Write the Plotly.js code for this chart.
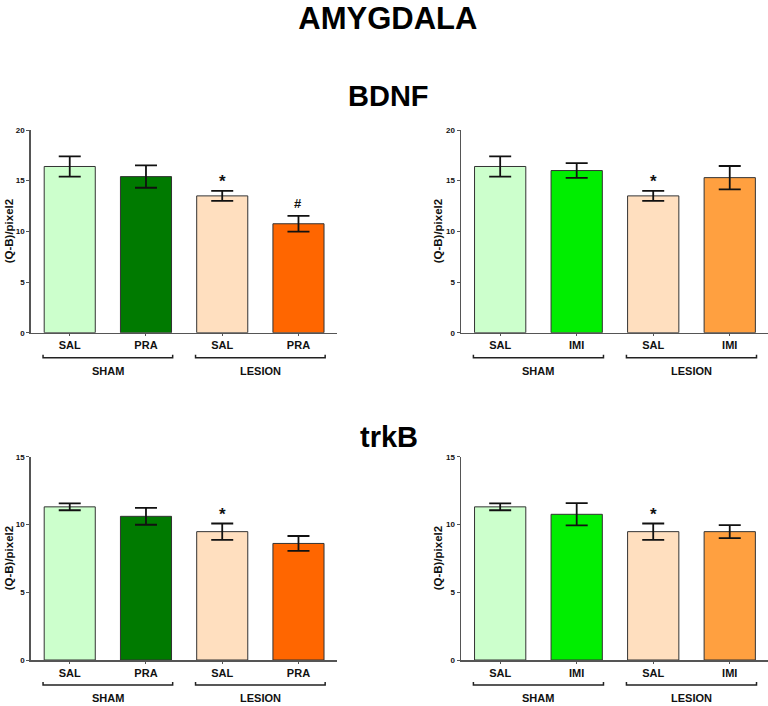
<!DOCTYPE html>
<html>
<head>
<meta charset="utf-8">
<script src="https://cdn.plot.ly/plotly-3.0.1.min.js"></script>
<style>html,body{margin:0;padding:0;background:#fff;}#chart{width:768px;height:706px;}</style>
</head>
<body>
<div id="chart"></div>
<script>
// ---- data ----
const labelsPRA = ['SAL', 'PRA', 'SAL', 'PRA'];
const labelsIMI = ['SAL', 'IMI', 'SAL', 'IMI'];
const groupNames = ['SHAM', 'LESION'];
const groupMembers = [[0, 1], [2, 3]];

const bdnfPRA = [16.4, 15.4, 13.5, 10.75];
const bdnfPRAerr = [1.0, 1.1, 0.5, 0.77];
const bdnfIMI = [16.4, 16.0, 13.5, 15.3];
const bdnfIMIerr = [1.0, 0.73, 0.5, 1.15];
const trkbPRA = [11.3, 10.6, 9.47, 8.6];
const trkbPRAerr = [0.25, 0.62, 0.6, 0.55];
const trkbIMI = [11.3, 10.75, 9.47, 9.47];
const trkbIMIerr = [0.25, 0.82, 0.6, 0.48];

const marksBdnfPRA = ['', '', '*', '#'];
const marksBdnfIMI = ['', '', '*', ''];
const marksTrkbPRA = ['', '', '*', ''];
const marksTrkbIMI = ['', '', '*', ''];

const colorsPRA = ['#ccffcc', '#007a00', '#ffdfbf', '#ff6600'];
const colorsIMI = ['#ccffcc', '#00ee00', '#ffdfbf', '#ffa040'];

const yMaxBdnf = 20, yMaxTrkb = 15;

// ---- layout helpers ----
const W = 768, H = 706;
const FONT = 'Liberation Sans, Arial, sans-serif';
const px2x = p => p / W;
const px2y = p => 1 - p / H;

const panels = [
  {vals: bdnfPRA, errs: bdnfPRAerr, labels: labelsPRA, colors: colorsPRA, marks: marksBdnfPRA, ymax: yMaxBdnf,
   xd: [px2x(30.7), px2x(336.6)], yd: [px2y(332.7), px2y(130)], ytitleX: px2x(9)},
  {vals: bdnfIMI, errs: bdnfIMIerr, labels: labelsIMI, colors: colorsIMI, marks: marksBdnfIMI, ymax: yMaxBdnf,
   xd: [px2x(461), 1], yd: [px2y(332.7), px2y(130)], ytitleX: px2x(438)},
  {vals: trkbPRA, errs: trkbPRAerr, labels: labelsPRA, colors: colorsPRA, marks: marksTrkbPRA, ymax: yMaxTrkb,
   xd: [px2x(30.7), px2x(336.6)], yd: [px2y(660), px2y(456.7)], ytitleX: px2x(9)},
  {vals: trkbIMI, errs: trkbIMIerr, labels: labelsIMI, colors: colorsIMI, marks: marksTrkbIMI, ymax: yMaxTrkb,
   xd: [px2x(461), 1], yd: [px2y(660), px2y(456.7)], ytitleX: px2x(438)}
];

const traces = [];
const layout = {
  width: W, height: H,
  margin: {l: 0, r: 0, t: 0, b: 0},
  paper_bgcolor: '#fff', plot_bgcolor: '#fff',
  showlegend: false,
  font: {family: FONT, color: '#000'},
  title: {text: 'AMYGDALA', x: 0.505, xanchor: 'center', y: px2y(18), yanchor: 'middle',
          font: {family: FONT, size: 31, weight: 'bold', color: '#000'}},
  annotations: [
    {text: 'BDNF', xref: 'paper', yref: 'paper', x: 0.5065, y: px2y(96), xanchor: 'center', yanchor: 'middle',
     showarrow: false, font: {family: FONT, size: 29, weight: 'bold', color: '#000'}},
    {text: 'trkB', xref: 'paper', yref: 'paper', x: 0.5065, y: px2y(437), xanchor: 'center', yanchor: 'middle',
     showarrow: false, font: {family: FONT, size: 29, weight: 'bold', color: '#000'}}
  ],
  shapes: []
};

panels.forEach((p, i) => {
  const n = i + 1;
  const xa = 'x' + (n === 1 ? '' : n), ya = 'y' + (n === 1 ? '' : n);
  const xk = 'xaxis' + (n === 1 ? '' : n), yk = 'yaxis' + (n === 1 ? '' : n);
  const idx = p.vals.map((_, k) => k);
  traces.push({
    type: 'bar', x: idx, y: p.vals, xaxis: xa, yaxis: ya, width: 0.67,
    marker: {color: p.colors, line: {color: '#333', width: 1}},
    error_y: {type: 'data', array: p.errs, visible: true, color: '#111', thickness: 1.8, width: 11},
    hoverinfo: 'y'
  });
  layout[xk] = {
    domain: p.xd, anchor: ya, range: [-0.512, 3.5], fixedrange: true,
    tickmode: 'array', tickvals: idx, ticktext: p.labels,
    ticks: 'outside', ticklen: 2, tickcolor: '#555', tickwidth: 1,
    showline: true, linecolor: '#555', linewidth: 1.5, showgrid: false, zeroline: false,
    tickfont: {family: FONT, size: 11, weight: 'bold', color: '#111'}
  };
  layout[yk] = {
    domain: p.yd, anchor: xa, range: [0, p.ymax], fixedrange: true,
    tickvals: [0, 5, 10, 15, 20].filter(v => v <= p.ymax),
    ticks: 'outside', ticklen: 3, tickcolor: '#555', tickwidth: 1,
    showline: true, linecolor: '#555', linewidth: 1.5, showgrid: false, zeroline: false,
    tickfont: {family: FONT, size: 8, weight: 'bold', color: '#111'}
  };
  // y title
  layout.annotations.push({
    text: '(Q-B)/pixel2', xref: 'paper', yref: 'paper', x: p.ytitleX, y: (p.yd[0] + p.yd[1]) / 2,
    xanchor: 'center', yanchor: 'middle', textangle: -90, showarrow: false,
    font: {family: FONT, size: 11.5, weight: 'bold', color: '#111'}
  });
  // significance marks
  p.marks.forEach((m, k) => {
    if (!m) return;
    layout.annotations.push({
      text: m, xref: xa, yref: ya, x: k, y: p.vals[k] + p.errs[k], xanchor: 'center', yanchor: 'bottom',
      yshift: m === '*' ? -2 : 3, showarrow: false,
      font: {family: FONT, size: m === '*' ? 17 : 13, weight: 'bold', color: '#111'}
    });
  });
  // group brackets and labels
  const by = p.yd[0] - 25 / H, bh = 3 / H, gy = p.yd[0] - 38 / H;
  groupMembers.forEach((g, gi) => {
    const x0 = Math.min(...g) - 0.35, x1 = Math.max(...g) + 0.35;
    layout.shapes.push({
      type: 'path', xref: xa, yref: 'paper',
      path: `M ${x0} ${by + bh} L ${x0} ${by} L ${x1} ${by} L ${x1} ${by + bh}`,
      line: {color: '#222', width: 1.5}
    });
    layout.annotations.push({
      text: groupNames[gi], xref: xa, yref: 'paper', x: (Math.min(...g) + Math.max(...g)) / 2, y: gy,
      xanchor: 'center', yanchor: 'middle', showarrow: false,
      font: {family: FONT, size: 11, weight: 'bold', color: '#111'}
    });
  });
});

Plotly.newPlot('chart', traces, layout, {displayModeBar: false, staticPlot: true});
</script>
</body>
</html>
